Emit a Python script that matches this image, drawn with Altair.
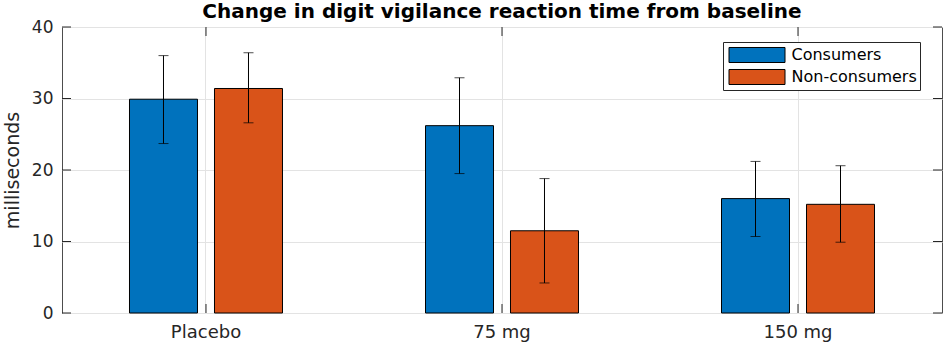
import altair as alt
import pandas as pd

categories = ["Placebo", "75 mg", "150 mg"]
groups = ["Consumers", "Non-consumers"]
consumers_mean = [29.9, 26.2, 16.0]
consumers_low = [23.7, 19.5, 10.7]
consumers_high = [36.0, 32.9, 21.2]
non_mean = [31.4, 11.5, 15.2]
non_low = [26.6, 4.2, 9.9]
non_high = [36.4, 18.8, 20.6]
y_ticks = [0, 10, 20, 30, 40]
colors = ["#0072BD", "#D95319"]

rows = []
for i, c in enumerate(categories):
    rows.append(dict(cat=c, group=groups[0], mean=consumers_mean[i], lo=consumers_low[i], hi=consumers_high[i]))
    rows.append(dict(cat=c, group=groups[1], mean=non_mean[i], lo=non_low[i], hi=non_high[i]))
df = pd.DataFrame(rows)
ticks_df = pd.DataFrame({"v": y_ticks})
cats_df = pd.DataFrame({"cat": categories})

W, H = 880, 286
TL = 9
FONT = "DejaVu Sans"
TXT = "#262626"

xscale = alt.Scale(domain=categories, paddingInner=0.4257, paddingOuter=0.1993)
xoff = alt.Scale(domain=groups, paddingInner=0.2, paddingOuter=0.1)
yscale = alt.Scale(domain=[0, 40], nice=False)

xaxis = alt.Axis(labelAngle=0, ticks=False, tickSize=0, domain=False, grid=True,
                 bandPosition=0.5, gridColor="#e3e3e3", labelFontSize=18,
                 labelFont=FONT, labelColor=TXT, labelPadding=10)
yaxis = alt.Axis(values=y_ticks, ticks=False, tickSize=0, domain=False, grid=True,
                 gridColor="#e3e3e3", labelFontSize=17, labelFont=FONT,
                 labelColor=TXT, labelPadding=9, titleFontSize=19, titleFont=FONT,
                 titleFontWeight="normal", titleColor=TXT, titlePadding=9)

X = lambda: alt.X("cat:N", scale=xscale, axis=xaxis, title=None, sort=categories)
XO = lambda: alt.XOffset("group:N", scale=xoff, sort=groups)

legend = alt.Legend(title=None, orient="none", legendX=661, legendY=15,
                    symbolType="M-1,-0.268L1,-0.268L1,0.268L-1,0.268Z",
                    symbolSize=3136, symbolStrokeColor="black", symbolStrokeWidth=1,
                    symbolOpacity=1, clipHeight=20, rowPadding=2, padding=3,
                    symbolOffset=2.5, labelOffset=6, labelFontSize=16, labelFont=FONT,
                    labelColor="black", strokeColor="#262626", fillColor="white",
                    cornerRadius=0, labelLimit=0)

bars = alt.Chart(df).mark_bar(stroke="black", strokeWidth=1).encode(
    x=X(), xOffset=XO(),
    y=alt.Y("mean:Q", scale=yscale, axis=yaxis, title="milliseconds"),
    fill=alt.Fill("group:N", scale=alt.Scale(domain=groups, range=colors), legend=legend),
)

err = alt.Chart(df).mark_rule(color="black", strokeWidth=1).encode(
    x=X(), xOffset=XO(),
    y=alt.Y("lo:Q", scale=yscale, axis=yaxis, title="milliseconds"),
    y2="hi:Q",
)

caps = alt.Chart(df).transform_fold(["lo", "hi"], as_=["k", "val"]).mark_tick(
    color="black", thickness=1, size=10, orient="horizontal").encode(
    x=X(), xOffset=XO(),
    y=alt.Y("val:Q", scale=yscale, axis=yaxis, title="milliseconds"),
)

ytick_l = alt.Chart(ticks_df).mark_rule(color=TXT, strokeWidth=1).encode(
    x=alt.value(0), x2=alt.value(TL),
    y=alt.Y("v:Q", scale=yscale, axis=yaxis, title="milliseconds"),
)
ytick_r = alt.Chart(ticks_df).mark_rule(color=TXT, strokeWidth=1).encode(
    x=alt.value(W - TL), x2=alt.value(W),
    y=alt.Y("v:Q", scale=yscale, axis=yaxis, title="milliseconds"),
)
xtick_b = alt.Chart(cats_df).mark_rule(color=TXT, strokeWidth=1).encode(
    x=X(), y=alt.value(H), y2=alt.value(H - TL),
)
xtick_t = alt.Chart(cats_df).mark_rule(color=TXT, strokeWidth=1).encode(
    x=X(), y=alt.value(0), y2=alt.value(TL),
)

chart = alt.layer(bars, err, caps, ytick_l, ytick_r, xtick_b, xtick_t).properties(
    width=W, height=H,
    padding={"left": 62, "top": 27, "right": 3, "bottom": 32},
    autosize=alt.AutoSizeParams(type="none"),
    title=alt.TitleParams("Change in digit vigilance reaction time from baseline",
                          fontSize=20, font=FONT, fontWeight="bold", color="black",
                          offset=5, dy=9, anchor="middle"),
    background="white",
).configure_view(stroke="#4d4d4d", strokeWidth=1)

chart.save("out.html", embed_options={"renderer": "svg", "actions": False})
